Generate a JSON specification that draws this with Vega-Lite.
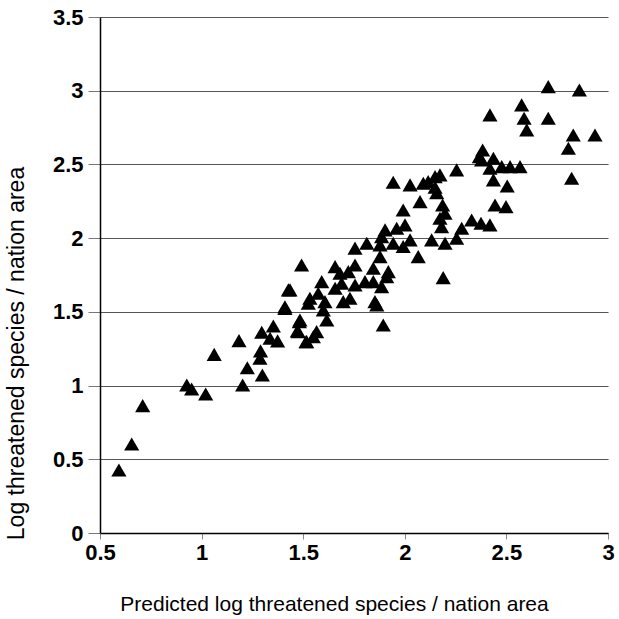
{
  "$schema": "https://vega.github.io/schema/vega-lite/v6.json",
  "width": 508,
  "height": 516,
  "autosize": "none",
  "padding": {"left": 100, "top": 17, "right": 11, "bottom": 86},
  "background": "white",
  "config": {"view": {"stroke": null}, "font": "Liberation Sans"},
  "data": {"values": [
    {"x": 0.593, "y": 0.427}, {"x": 0.656, "y": 0.604}, {"x": 0.71, "y": 0.864},
    {"x": 0.927, "y": 1.004}, {"x": 0.951, "y": 0.977}, {"x": 1.02, "y": 0.943},
    {"x": 1.062, "y": 1.212}, {"x": 1.184, "y": 1.305}, {"x": 1.202, "y": 1.004},
    {"x": 1.225, "y": 1.121}, {"x": 1.299, "y": 1.072}, {"x": 1.287, "y": 1.185},
    {"x": 1.29, "y": 1.235}, {"x": 1.296, "y": 1.362}, {"x": 1.337, "y": 1.321},
    {"x": 1.353, "y": 1.404}, {"x": 1.374, "y": 1.303}, {"x": 1.427, "y": 1.649},
    {"x": 1.41, "y": 1.524}, {"x": 1.481, "y": 1.434}, {"x": 1.471, "y": 1.37},
    {"x": 1.514, "y": 1.298}, {"x": 1.525, "y": 1.558},
    {"x": 2.255, "y": 2.463}, {"x": 2.367, "y": 2.553}, {"x": 1.943, "y": 2.379},
    {"x": 2.026, "y": 2.361}, {"x": 2.091, "y": 2.372}, {"x": 2.115, "y": 2.383},
    {"x": 2.149, "y": 2.417}, {"x": 2.173, "y": 2.429}, {"x": 2.149, "y": 2.345},
    {"x": 2.157, "y": 2.309}, {"x": 2.075, "y": 2.248}, {"x": 1.992, "y": 2.191},
    {"x": 2.186, "y": 2.225}, {"x": 2.198, "y": 2.169}, {"x": 2.173, "y": 2.135},
    {"x": 2.181, "y": 2.078}, {"x": 2.329, "y": 2.123}, {"x": 2.28, "y": 2.067},
    {"x": 2.255, "y": 1.999}, {"x": 2.198, "y": 1.965}, {"x": 2.132, "y": 1.988},
    {"x": 2.066, "y": 1.875}, {"x": 2.026, "y": 1.988}, {"x": 2.001, "y": 2.09},
    {"x": 1.96, "y": 2.067}, {"x": 1.992, "y": 1.943}, {"x": 1.943, "y": 1.965},
    {"x": 1.903, "y": 2.056}, {"x": 1.886, "y": 2.01}, {"x": 1.878, "y": 1.954},
    {"x": 1.813, "y": 1.965}, {"x": 1.755, "y": 1.932}, {"x": 1.878, "y": 1.875},
    {"x": 1.845, "y": 1.796}, {"x": 1.919, "y": 1.773}, {"x": 1.911, "y": 1.739},
    {"x": 2.189, "y": 1.732}, {"x": 1.755, "y": 1.818}, {"x": 1.722, "y": 1.773},
    {"x": 1.657, "y": 1.807}, {"x": 1.681, "y": 1.762}, {"x": 1.804, "y": 1.705},
    {"x": 1.845, "y": 1.705}, {"x": 1.886, "y": 1.671}, {"x": 1.755, "y": 1.682},
    {"x": 1.689, "y": 1.694}, {"x": 1.657, "y": 1.66}, {"x": 1.591, "y": 1.705},
    {"x": 1.492, "y": 1.818}, {"x": 1.435, "y": 1.649}, {"x": 1.533, "y": 1.592},
    {"x": 1.574, "y": 1.626}, {"x": 1.607, "y": 1.569}, {"x": 1.697, "y": 1.569},
    {"x": 1.73, "y": 1.592}, {"x": 1.853, "y": 1.569}, {"x": 1.862, "y": 1.547},
    {"x": 1.894, "y": 1.411}, {"x": 1.599, "y": 1.513}, {"x": 1.616, "y": 1.445},
    {"x": 1.484, "y": 1.445}, {"x": 1.476, "y": 1.366}, {"x": 1.41, "y": 1.535},
    {"x": 1.566, "y": 1.366}, {"x": 1.55, "y": 1.332}, {"x": 1.517, "y": 1.298},
    {"x": 2.706, "y": 3.028}, {"x": 2.859, "y": 3.005}, {"x": 2.575, "y": 2.904},
    {"x": 2.587, "y": 2.813}, {"x": 2.6, "y": 2.734}, {"x": 2.419, "y": 2.836},
    {"x": 2.706, "y": 2.813}, {"x": 2.829, "y": 2.7}, {"x": 2.936, "y": 2.7},
    {"x": 2.805, "y": 2.61}, {"x": 2.821, "y": 2.406}, {"x": 2.383, "y": 2.598},
    {"x": 2.378, "y": 2.531}, {"x": 2.436, "y": 2.542}, {"x": 2.419, "y": 2.474},
    {"x": 2.477, "y": 2.485}, {"x": 2.518, "y": 2.485}, {"x": 2.567, "y": 2.485},
    {"x": 2.436, "y": 2.395}, {"x": 2.504, "y": 2.354}, {"x": 2.444, "y": 2.225},
    {"x": 2.498, "y": 2.214}, {"x": 2.375, "y": 2.101}, {"x": 2.419, "y": 2.09}
  ]},
  "mark": {"type": "point", "shape": "triangle-up", "filled": true, "color": "black", "opacity": 1, "size": 230},
  "encoding": {
    "x": {
      "field": "x", "type": "quantitative",
      "scale": {"domain": [0.5, 3], "nice": false, "zero": false},
      "axis": {
        "values": [0.5, 1, 1.5, 2, 2.5, 3], "format": "~g", "grid": false,
        "title": "Predicted log threatened species / nation area",
        "titleFont": "Liberation Sans", "titleFontSize": 21, "titleFontWeight": "normal", "titleColor": "black",
        "titleX": 234, "titleY": 71, "titleBaseline": "middle", "titleAlign": "center",
        "labelFont": "Liberation Sans", "labelFontSize": 22, "labelFontWeight": "bold", "labelColor": "black", "labelPadding": 3,
        "domainColor": "black", "domainWidth": 1.5, "tickColor": "#888", "tickSize": 6, "labelFlush": false
      }
    },
    "y": {
      "field": "y", "type": "quantitative",
      "scale": {"domain": [0, 3.5], "nice": false},
      "axis": {
        "values": [0, 0.5, 1, 1.5, 2, 2.5, 3, 3.5], "format": "~g", "grid": true,
        "gridColor": "#555", "gridWidth": 1,
        "title": "Log threatened species / nation area",
        "titleFont": "Liberation Sans", "titleFontSize": 23, "titleFontWeight": "normal", "titleColor": "black",
        "titleX": -84, "titleY": 336, "titleBaseline": "middle", "titleAlign": "center", "titleAngle": -90,
        "labelFont": "Liberation Sans", "labelFontSize": 22, "labelFontWeight": "bold", "labelColor": "black", "labelPadding": 5,
        "domainColor": "black", "domainWidth": 1.5, "tickColor": "#777", "tickSize": 12
      }
    }
  }
}
